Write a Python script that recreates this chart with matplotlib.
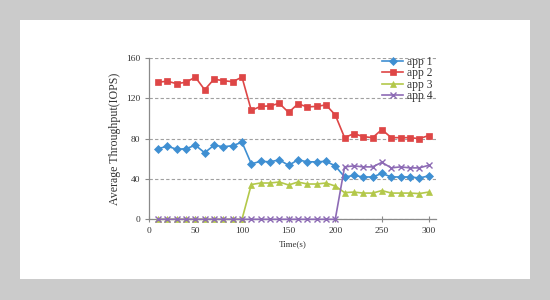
import matplotlib
matplotlib.use("Agg")
import matplotlib.pyplot as plt
from matplotlib.patches import Rectangle

time_s = [10, 20, 30, 40, 50, 60, 70, 80, 90, 100,
          110, 120, 130, 140, 150, 160, 170, 180, 190, 200,
          210, 220, 230, 240, 250, 260, 270, 280, 290, 300]
app1 = [70, 72.5, 69.5, 70, 73.5, 66, 73.5, 72, 73, 76.5,
        55, 57.5, 57, 59, 53.5, 59, 57, 57, 57.5, 53,
        42, 43.5, 42, 42, 45.5, 42, 42, 42, 41, 43]
app2 = [136, 137, 134.5, 136, 141, 128.5, 139, 137.5, 136.5, 141,
        108, 112, 112.5, 115, 106, 114.5, 111.5, 112, 113.5, 103.5,
        81, 85, 82, 81, 89, 81, 81, 81, 80, 83]
app3 = [0, 0, 0, 0, 0, 0, 0, 0, 0, 0,
        34.5, 36, 36, 37, 34, 37, 35, 35, 36, 33,
        26.5, 27, 26, 26, 28.5, 26, 26, 26, 25.5, 27]
app4 = [0, 0, 0, 0, 0, 0, 0, 0, 0, 0,
        0, 0, 0, 0, 0, 0, 0, 0, 0, 0,
        52, 53, 52, 52, 56.5, 51, 52, 51, 51, 53.5]
series_names = ["app 1", "app 2", "app 3", "app 4"]
x_ticks = [0, 50, 100, 150, 200, 250, 300]
y_ticks = [0, 40, 80, 120, 160]

plt.rcParams['font.family'] = ['Liberation Serif', 'DejaVu Serif']

fig = plt.figure(figsize=(5.5, 3.0), dpi=100)
fig.patch.set_facecolor('#cbcbcb')
fig.add_artist(Rectangle((20/550, 1-279/300), 510/550, 259/300,
                         transform=fig.transFigure, facecolor='white',
                         edgecolor='none', zorder=0))

ax = fig.add_axes([148.7/550, 1-219.3/300, (436-148.7)/550, (219.3-58)/300])
ax.set_facecolor('none')

colors = ['#3f8fd2', '#de4646', '#b3c84a', '#8d6bb5']
markers = ['D', 's', '^', 'x']
msizes = [4, 5, 5, 5]
for vals, name, c, m, ms in zip([app1, app2, app3, app4], series_names, colors, markers, msizes):
    ax.plot(time_s, vals, color=c, marker=m, markersize=ms, lw=1.2,
            label=name, markeredgewidth=1.0 if m == 'x' else 0.5, clip_on=False, zorder=3)

ax.set_xlim(0, 308)
ax.set_ylim(0, 160)
ax.set_xticks(x_ticks)
ax.set_yticks(y_ticks)
ax.yaxis.grid(True, linestyle=(0, (3, 2)), color='#a0a0a0', lw=0.8)
ax.set_axisbelow(True)
for s in ['top', 'right']:
    ax.spines[s].set_visible(False)
for s in ['left', 'bottom']:
    ax.spines[s].set_color('#8a8a8a')
    ax.spines[s].set_linewidth(0.9)
ax.tick_params(axis='x', direction='inout', length=5, color='#8a8a8a', labelsize=6.8, pad=3, labelcolor='#333333')
ax.tick_params(axis='y', direction='out', length=3, color='#8a8a8a', labelsize=6.8, pad=3, labelcolor='#333333')

ax.set_xlabel("Time(s)", fontsize=6.5, color='#333333', labelpad=4)
ax.set_ylabel("Average Throughput(IOPS)", fontsize=8.6, color='#333333', labelpad=3.5)

leg = ax.legend(loc='upper left', bbox_to_anchor=((382-148.7)/287.3, (219.3-56)/161.3),
                frameon=False, fontsize=8.3, handlelength=1.85, handletextpad=0.3,
                labelspacing=-0.05, borderaxespad=0, borderpad=0)
for t in leg.get_texts():
    t.set_color('#333333')

fig.savefig("out.png", dpi=100, facecolor=fig.get_facecolor())
